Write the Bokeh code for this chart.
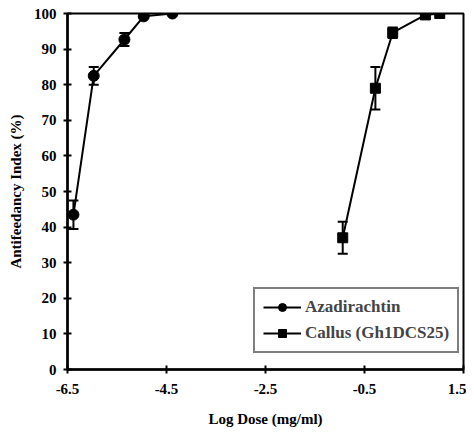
from bokeh.plotting import figure
from bokeh.models import ColumnDataSource, Whisker, TeeHead, Legend, LegendItem, FixedTicker, Range1d
from bokeh.embed import file_html
from bokeh.resources import INLINE

aza_x = [-6.38, -5.97, -5.35, -4.96, -4.38]
aza_y = [43.5, 82.5, 92.7, 99.2, 100.0]
aza_err = [4.0, 2.5, 1.8, 0.5, 0.3]

cal_x = [-0.94, -0.28, 0.07, 0.73, 1.02]
cal_y = [37.0, 79.0, 94.6, 99.6, 100.0]
cal_err = [4.5, 6.0, 1.5, 0.4, 0.3]

x_ticks = [-6.5, -4.5, -2.5, -0.5, 1.5]
y_ticks = list(range(0, 101, 10))

FONT = "Liberation Serif"

p = figure(width=466, height=431, output_backend="svg", toolbar_location=None,
           x_range=Range1d(-6.5, 1.5), y_range=Range1d(0, 100),
           min_border_left=67, min_border_right=3, min_border_top=13, min_border_bottom=62)
p.grid.visible = False
p.outline_line_color = "black"
p.outline_line_width = 2
p.background_fill_color = "white"

for ax in (p.xaxis[0], p.yaxis[0]):
    ax.axis_line_width = 2.5
    ax.axis_line_color = "black"
    ax.major_tick_in = 4
    ax.major_tick_out = 4
    ax.major_tick_line_width = 2
    ax.minor_tick_line_color = None
    ax.major_label_text_font = FONT
    ax.major_label_text_font_style = "bold"
    ax.major_label_text_font_size = "15px"
    ax.major_label_text_color = "black"
    ax.axis_label_text_font = FONT
    ax.axis_label_text_font_style = "bold"
    ax.axis_label_text_font_size = "15px"
    ax.axis_label_text_color = "black"

p.xaxis.ticker = FixedTicker(ticks=x_ticks)
p.yaxis.ticker = FixedTicker(ticks=y_ticks)
p.xaxis.major_label_overrides = {t: f"{t:g}" for t in x_ticks}
p.xaxis.axis_label = "Log Dose (mg/ml)"
p.yaxis.axis_label = "Antifeedancy Index (%)"
p.xaxis.major_label_standoff = 10
p.xaxis.axis_label_standoff = 14
p.yaxis.major_label_standoff = 7
p.yaxis.axis_label_standoff = 7

src_a = ColumnDataSource(dict(x=aza_x, y=aza_y,
                              lo=[v - e for v, e in zip(aza_y, aza_err)],
                              hi=[v + e for v, e in zip(aza_y, aza_err)]))
src_c = ColumnDataSource(dict(x=cal_x, y=cal_y,
                              lo=[v - e for v, e in zip(cal_y, cal_err)],
                              hi=[v + e for v, e in zip(cal_y, cal_err)]))

for src in (src_a, src_c):
    w = Whisker(source=src, base="x", upper="hi", lower="lo", dimension="height",
                line_color="black", line_width=2,
                upper_head=TeeHead(size=10, line_color="black", line_width=2),
                lower_head=TeeHead(size=10, line_color="black", line_width=2))
    p.add_layout(w)

la = p.line("x", "y", source=src_a, line_color="black", line_width=2)
ma = p.scatter("x", "y", source=src_a, marker="circle", size=11,
               fill_color="black", line_color="black")
lc = p.line("x", "y", source=src_c, line_color="black", line_width=2)
mc = p.scatter("x", "y", source=src_c, marker="square", size=10,
               fill_color="black", line_color="black")

legend = Legend(items=[LegendItem(label="Azadirachtin", renderers=[la, ma]),
                       LegendItem(label="Callus (Gh1DCS25)", renderers=[lc, mc])],
                location=(186, 16))
legend.label_text_font = FONT
legend.label_text_font_style = "bold"
legend.label_text_font_size = "17px"
legend.border_line_color = "black"
legend.border_line_width = 2
legend.margin = 0
legend.padding = 8
legend.spacing = 6
legend.glyph_width = 38
legend.label_standoff = 4
p.add_layout(legend)

open("out.html", "w").write(file_html(p, INLINE))
